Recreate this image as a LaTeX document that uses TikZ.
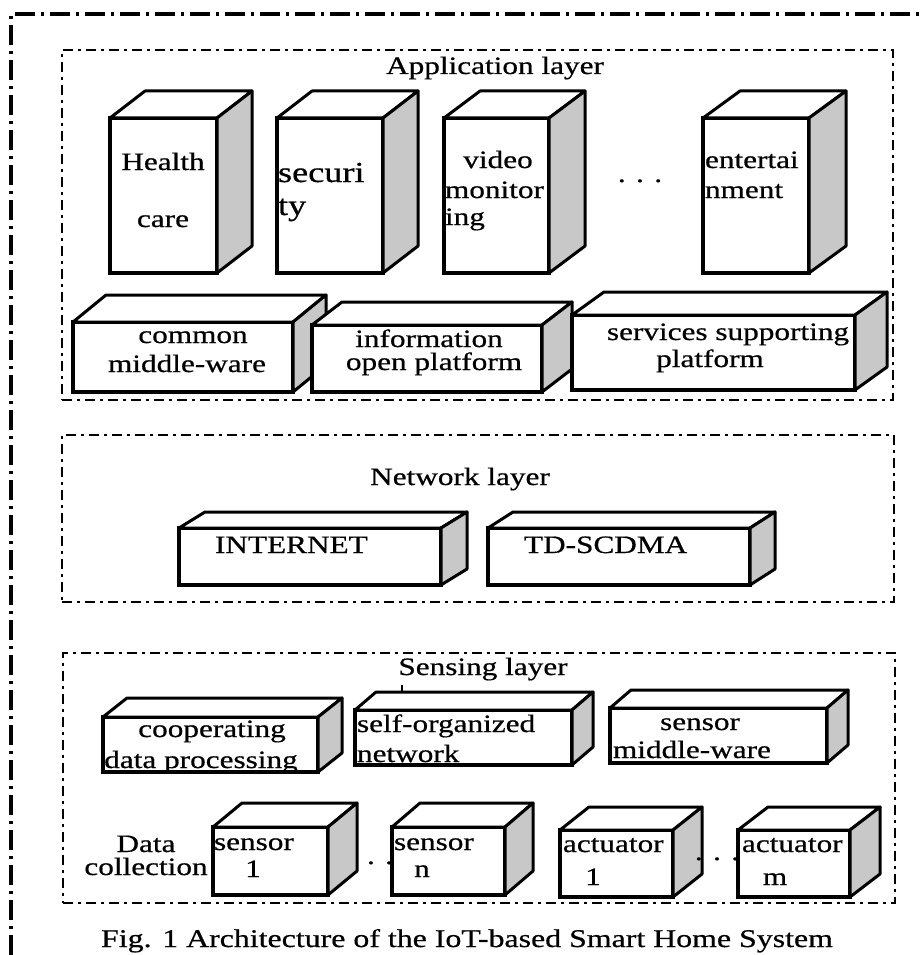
\documentclass[tikz,border=0pt]{standalone}
\usepackage{fontspec}
\setmainfont[FakeStretch=1.25, FakeBold=0.6]{Liberation Serif}
\usetikzlibrary{calc}
\definecolor{sidegray}{HTML}{C8C8C8}
\tikzset{
  front/.style={draw, line width=3.8pt, fill=white, inner sep=0pt, outer sep=0pt, rectangle},
  face/.style={draw, line width=3pt, line join=round, fill=white},
  sideface/.style={face, fill=sidegray},
  layerbox/.style={draw, line width=2.8pt, dash pattern=on 10pt off 5pt on 3pt off 5pt},
  outerframe/.style={draw, line width=3.5pt, dash pattern=on 20pt off 6pt on 3pt off 6pt},
  txt/.style={font=\fontsize{25}{28}\selectfont, inner sep=0pt, outer sep=0pt},
  lt/.style={txt, anchor=base west},
  ct/.style={txt, anchor=base},
}
\newcommand\cubebox[7]{%
  \node[front, minimum width={(#4-#2)*1pt}, minimum height={(#5-#3)*1pt}] (#1) at ({(#2+#4)/2},{(#3+#5)/2}) {};
  \filldraw[face] (#1.north west) -- ++(#6,#7) -- ($(#1.north east)+(#6,#7)$) -- (#1.north east) -- cycle;
  \filldraw[sideface] (#1.north east) -- ++(#6,#7) -- ($(#1.south east)+(#6,#7)$) -- (#1.south east) -- cycle;
}
\begin{document}
\begin{tikzpicture}[x=1pt,y=-1pt]
\useasboundingbox (0,0) rectangle (923,955);
% outer frame
\coordinate (ofa) at (11,955);
\coordinate (ofb) at (11,14);
\coordinate (ofc) at (923,14);
\draw[outerframe] (ofa) -- (ofb) -- (ofc);
% layer boxes
\node[layerbox, minimum width=831pt, minimum height=350pt, inner sep=0pt] (applayer) at (477.5,225) {};
\node[layerbox, minimum width=832pt, minimum height=167pt, inner sep=0pt] (netlayer) at (478,518.5) {};
\node[layerbox, minimum width=832pt, minimum height=250pt, inner sep=0pt] (senslayer) at (479,778) {};

% application layer
\node[ct] (tapp) at (495,74) {Application layer};
\cubebox{hc}{110}{118}{217}{273}{35}{-27}
\cubebox{sec}{277}{118}{383}{273}{35}{-27}
\cubebox{vid}{444}{118}{549}{273}{36}{-27}
\cubebox{ent}{703}{118}{809}{273}{37}{-27}
\node[ct] (thealth) at (163,170) {Health};
\node[ct] (tcare) at (163,227) {care};
\node[lt, font=\fontsize{29}{32}\selectfont] (tsec1) at (278,182) {securi};
\node[lt, font=\fontsize{29}{32}\selectfont] (tsec2) at (278,215) {ty};
\node[ct] (tvid1) at (498,168) {video};
\node[lt] (tvid2) at (445,198) {monitor};
\node[lt] (tvid3) at (445,225) {ing};
\node[ct] (tdots1) at (640,182) {. . .};
\node[lt] (tent1) at (705,168) {entertai};
\node[lt] (tent2) at (705,198) {nment};

\cubebox{cmw}{73}{322}{293}{392}{33}{-27}
\cubebox{iop}{312}{325}{542}{392}{30}{-23}
\cubebox{ssp}{572}{315}{855}{390}{32}{-23}
\node[ct] (tcmw1) at (193,343) {common};
\node[ct] (tcmw2) at (187,372) {middle-ware};
\node[ct] (tiop1) at (429,347) {information};
\node[ct] (tiop2) at (434,370) {open platform};
\node[ct] (tssp1) at (728,340) {services supporting};
\node[ct] (tssp2) at (710,367) {platform};

% network layer
\node[ct] (tnet) at (460,485) {Network layer};
\cubebox{inet}{179}{528}{441}{585}{26}{-16}
\cubebox{td}{488}{528}{750}{585}{25}{-16}
\node[lt] (tinet) at (215,553) {INTERNET};
\node[lt] (ttd) at (524,553) {TD-SCDMA};

% sensing layer
\node[ct] (tsens) at (483,675) {Sensing layer};
\cubebox{cdp}{103}{717}{318}{772}{24}{-19}
\cubebox{son}{355}{710}{572}{765}{21}{-18}
\cubebox{smw}{610}{708}{827}{763}{21}{-18}
\coordinate (tick) at (402,685);
\draw[line width=1.2pt] (tick) -- ++(0,8);
\node[ct] (tcdp1) at (212,737) {cooperating};
\begin{scope}
  \clip (cdp.south west) rectangle (cdp.north east);
  \node[ct] (tcdp2) at (201,768) {data processing};
\end{scope}
\draw[line width=3.8pt] (cdp.south west) -- (cdp.south east);
\node[lt] (tson1) at (357,732) {self-organized};
\node[lt] (tson2) at (357,762) {network};
\node[ct] (tsmw1) at (700,730) {sensor};
\node[lt] (tsmw2) at (613,758) {middle-ware};

\node[ct] (tdata1) at (146,852) {Data};
\node[ct] (tdata2) at (146,875) {collection};
\cubebox{sa}{213}{827}{328}{895}{29}{-24}
\cubebox{sb}{392}{827}{505}{895}{28}{-24}
\cubebox{aa}{560}{830}{673}{897}{29}{-23}
\cubebox{ab}{738}{830}{850}{897}{30}{-23}
\node[lt] (tsa1) at (214,850) {sensor};
\node[ct] (tsa2) at (253,877) {1};
\node[lt] (tsb1) at (394,850) {sensor};
\node[ct] (tsb2) at (422,877) {n};
\node[ct] (tdots2) at (380,864) {. .};
\node[lt] (taa1) at (563,852) {actuator};
\node[ct] (taa2) at (593,885) {1};
\node[ct] (tdots3) at (717,860) {. . .};
\node[lt] (tab1) at (742,852) {actuator};
\node[ct] (tab2) at (775,885) {m};

% caption
\node[ct, font=\fontsize{25.5}{28}\selectfont] (caption) at (467,947) {Fig. 1 Architecture of the IoT-based Smart Home System};
\end{tikzpicture}
\end{document}
